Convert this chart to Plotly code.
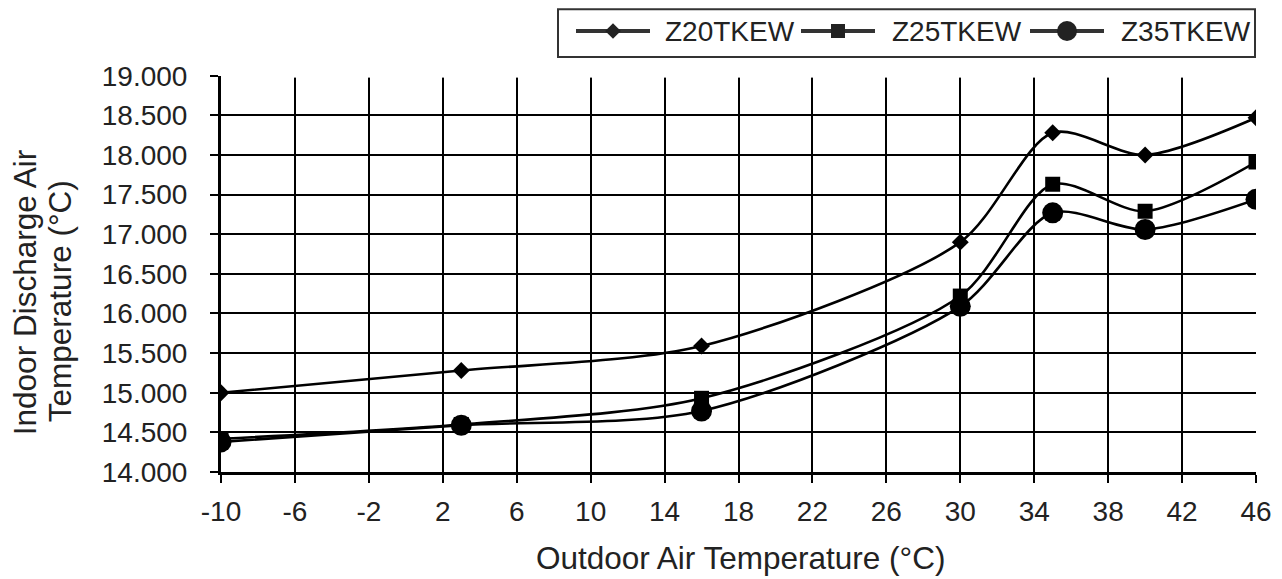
import plotly.graph_objects as go

# ---- data ----
outdoor_temp = [-10, 3, 16, 30, 35, 40, 46]
z20tkew = [15.00, 15.28, 15.59, 16.90, 18.28, 18.00, 18.47]
z25tkew = [14.42, 14.60, 14.93, 16.22, 17.63, 17.29, 17.91]
z35tkew = [14.38, 14.59, 14.77, 16.09, 17.27, 17.06, 17.44]
series_names = ["Z20TKEW", "Z25TKEW", "Z35TKEW"]
x_tick_vals = [-10, -6, -2, 2, 6, 10, 14, 18, 22, 26, 30, 34, 38, 42, 46]
x_tick_labels = ["-10", "-6", "-2", "2", "6", "10", "14", "18", "22", "26",
                 "30", "34", "38", "42", "46"]
y_tick_vals = [14.0, 14.5, 15.0, 15.5, 16.0, 16.5, 17.0, 17.5, 18.0, 18.5, 19.0]
y_tick_labels = ["14.000", "14.500", "15.000", "15.500", "16.000", "16.500",
                 "17.000", "17.500", "18.000", "18.500", "19.000"]
x_title = "Outdoor Air Temperature (°C)"
y_title_lines = ["Indoor Discharge Air", "Temperature (°C)"]

# ---- layout geometry ----
# The page body adds an 8px offset; reference pixel coords are converted.
OFF = 8
FW, FH = 1282 - OFF, 579 - OFF
L = 221 - OFF
R = FW - (1256 - OFF)
PLOT_TOP = 75.7 - OFF
PLOT_BOT = 471.7 - OFF
B = FH - PLOT_BOT
PW = FW - L - R
PH = FH - B


def px_x(p):
    """reference pixel x -> paper x"""
    return (p - OFF - L) / PW


def px_y(p):
    """reference pixel y -> paper y"""
    return (PH - (p - OFF)) / PH


FONT = "Liberation Sans, Arial, sans-serif"
TXT = "#222222"

fig = go.Figure()

styles = [
    dict(symbol="diamond", size=13),
    dict(symbol="square", size=15),
    dict(symbol="circle", size=21),
]
for name, ys, st in zip(series_names, [z20tkew, z25tkew, z35tkew], styles):
    fig.add_trace(go.Scatter(
        x=outdoor_temp, y=ys, name=name, mode="lines+markers",
        line=dict(color="black", width=2.6, shape="spline", smoothing=0.8),
        marker=dict(symbol=st["symbol"], size=st["size"], color="black",
                    line=dict(width=0)),
        showlegend=False, xaxis="x", yaxis="y",
    ))

# ---- custom legend drawn on an overlay axis in reference-pixel units ----
leg_line_start = [576, 801, 1030]
leg_line_len = 74
leg_text_x = [663, 890, 1119]
leg_y = 31
leg_marker_sizes = [12, 14, 20]
for i, name in enumerate(series_names):
    x0 = leg_line_start[i]
    fig.add_trace(go.Scatter(
        x=[x0, x0 + leg_line_len], y=[leg_y, leg_y], mode="lines",
        line=dict(color="#333333", width=4), showlegend=False,
        xaxis="x2", yaxis="y2", hoverinfo="skip",
    ))
    fig.add_trace(go.Scatter(
        x=[x0 + leg_line_len / 2], y=[leg_y], mode="markers",
        marker=dict(symbol=styles[i]["symbol"], size=leg_marker_sizes[i],
                    color="#222222", line=dict(width=0)),
        showlegend=False, xaxis="x2", yaxis="y2", hoverinfo="skip",
    ))
    fig.add_annotation(
        x=leg_text_x[i], y=leg_y, xref="x2", yref="y2", text=name,
        showarrow=False, xanchor="left", yanchor="middle",
        font=dict(family=FONT, size=28, color=TXT),
    )

# legend frame (paper-referenced so it is not clipped)
fig.add_shape(type="rect", xref="paper", yref="paper",
              x0=px_x(558), x1=px_x(1255), y0=px_y(9.2), y1=px_y(57),
              line=dict(color="#333333", width=2), fillcolor="rgba(0,0,0,0)")

# axis titles
for line_text, cx, cy in zip(y_title_lines, [25, 60], [292, 301]):
    fig.add_annotation(
        x=px_x(cx), y=px_y(cy), xref="paper", yref="paper", text=line_text,
        textangle=-90, showarrow=False, xanchor="center", yanchor="middle",
        borderpad=0, font=dict(family=FONT, size=31.5, color=TXT),
    )
fig.add_annotation(
    x=px_x(740), y=px_y(558), xref="paper", yref="paper", text=x_title,
    showarrow=False, xanchor="center", yanchor="middle", borderpad=0,
    font=dict(family=FONT, size=31.5, color=TXT),
)

top_dom = 0.85
axis_common = dict(
    showgrid=True, gridcolor="black", gridwidth=1.5,
    showline=True, linecolor="black", linewidth=3,
    ticks="outside", ticklen=8, tickwidth=2, tickcolor="black",
    zeroline=False, automargin=False,
    tickfont=dict(family=FONT, size=28, color=TXT),
)
fig.update_layout(
    width=FW, height=FH,
    margin=dict(l=L, r=R, t=0, b=B, pad=0, autoexpand=False),
    paper_bgcolor="white", plot_bgcolor="white",
    font=dict(family=FONT, size=28, color=TXT),
    showlegend=False,
    xaxis=dict(
        range=[-10, 46], tickmode="array", tickvals=x_tick_vals,
        ticktext=x_tick_labels, domain=[0, 1], ticklabelstandoff=4,
        anchor="y", **axis_common,
    ),
    yaxis=dict(
        range=[14, 19], tickmode="array", tickvals=y_tick_vals,
        ticktext=y_tick_labels, domain=[0, (PH - PLOT_TOP) / PH],
        ticklabelstandoff=17, anchor="x", **axis_common,
    ),
    xaxis2=dict(range=[L + OFF, FW - R + OFF], domain=[0, 1], visible=False,
                anchor="y2", fixedrange=True, automargin=False),
    yaxis2=dict(range=[PH * (1 - top_dom) + OFF, OFF], domain=[top_dom, 1],
                visible=False, anchor="x2", fixedrange=True, automargin=False),
)

fig.write_html("out.html")
